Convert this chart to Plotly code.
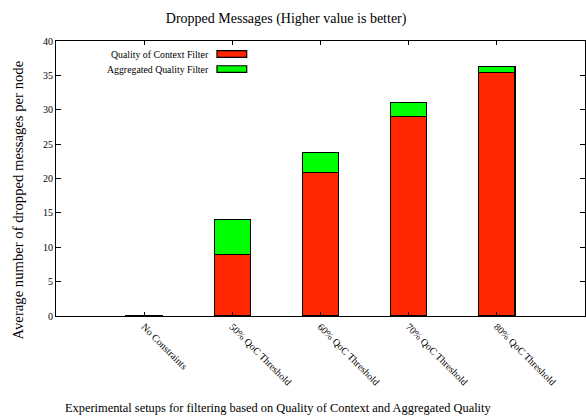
import plotly.graph_objects as go

# Experimental setups and average dropped messages per node
categories = ["No Constraints", "50% QoC Threshold", "60% QoC Threshold",
              "70% QoC Threshold", "80% QoC Threshold"]
qoc_filter = [0.0, 9.0, 20.9, 29.05, 35.45]
aggregated_extra = [0.1, 5.05, 2.9, 2.05, 0.85]

series_names = ["Quality of Context Filter", "Aggregated Quality Filter"]
series_colors = ["#ff2600", "#00ff00"]

y_ticks = [0, 5, 10, 15, 20, 25, 30, 35, 40]

FONT = "Liberation Serif, Times New Roman, serif"

x_idx = list(range(len(categories)))

fig = go.Figure()
for name, vals, col in zip(series_names, [qoc_filter, aggregated_extra], series_colors):
    fig.add_trace(go.Bar(
        x=x_idx, y=vals, name=name, width=0.41,
        marker=dict(color=col, line=dict(color="black", width=1.2)),
        showlegend=False,
    ))

# gnuplot-style key: right-aligned text followed by a colour swatch
key_rows = [0.9527, 0.898]
for name, col, yc in zip(series_names, series_colors, key_rows):
    fig.add_annotation(
        x=0.2925, y=yc, xref="paper", yref="paper", text=name,
        showarrow=False, xanchor="right", yanchor="middle",
        font=dict(family=FONT, size=9.8, color="black"),
    )
    fig.add_shape(
        type="rect", xref="paper", yref="paper",
        x0=0.3043, x1=0.3605, y0=yc - 0.012, y1=yc + 0.012,
        fillcolor=col, line=dict(color="black", width=1.2),
    )

# axis titles
fig.add_annotation(
    x=0.4206, y=-0.3345, xref="paper", yref="paper",
    text="Experimental setups for filtering based on Quality of Context and Aggregated Quality",
    showarrow=False, xanchor="center", yanchor="middle",
    font=dict(family=FONT, size=12.4, color="black"),
)
fig.add_annotation(
    x=0, y=0.42, xref="paper", yref="paper", xshift=-39,
    text="Average number of dropped messages per node", textangle=-90,
    showarrow=False, xanchor="center", yanchor="middle",
    font=dict(family=FONT, size=14.7, color="black"),
)

fig.update_layout(
    width=586, height=419,
    margin=dict(l=56, r=1, t=41, b=103),
    paper_bgcolor="white", plot_bgcolor="white",
    barmode="stack",
    font=dict(family=FONT, color="black"),
    title=dict(
        text="Dropped Messages (Higher value is better)",
        x=0.435, xref="paper", xanchor="center",
        y=1 - 18 / 419, yref="container", yanchor="middle",
        font=dict(family=FONT, size=14, color="black"),
    ),
    xaxis=dict(
        range=[-1, 5], tickmode="array", tickvals=x_idx, ticktext=categories,
        tickangle=45, ticks="inside", ticklen=4, tickcolor="black",
        showline=True, linecolor="black", linewidth=1, mirror="ticks",
        showgrid=False, zeroline=False,
        tickfont=dict(family=FONT, size=10, color="black"),
    ),
    yaxis=dict(
        range=[0, 40], tickmode="array", tickvals=y_ticks,
        ticks="inside", ticklen=5, tickcolor="black",
        showline=True, linecolor="black", linewidth=1, mirror="ticks",
        showgrid=False, zeroline=False,
        tickfont=dict(family=FONT, size=10, color="black"),
    ),
)

fig.write_html("out.html")
